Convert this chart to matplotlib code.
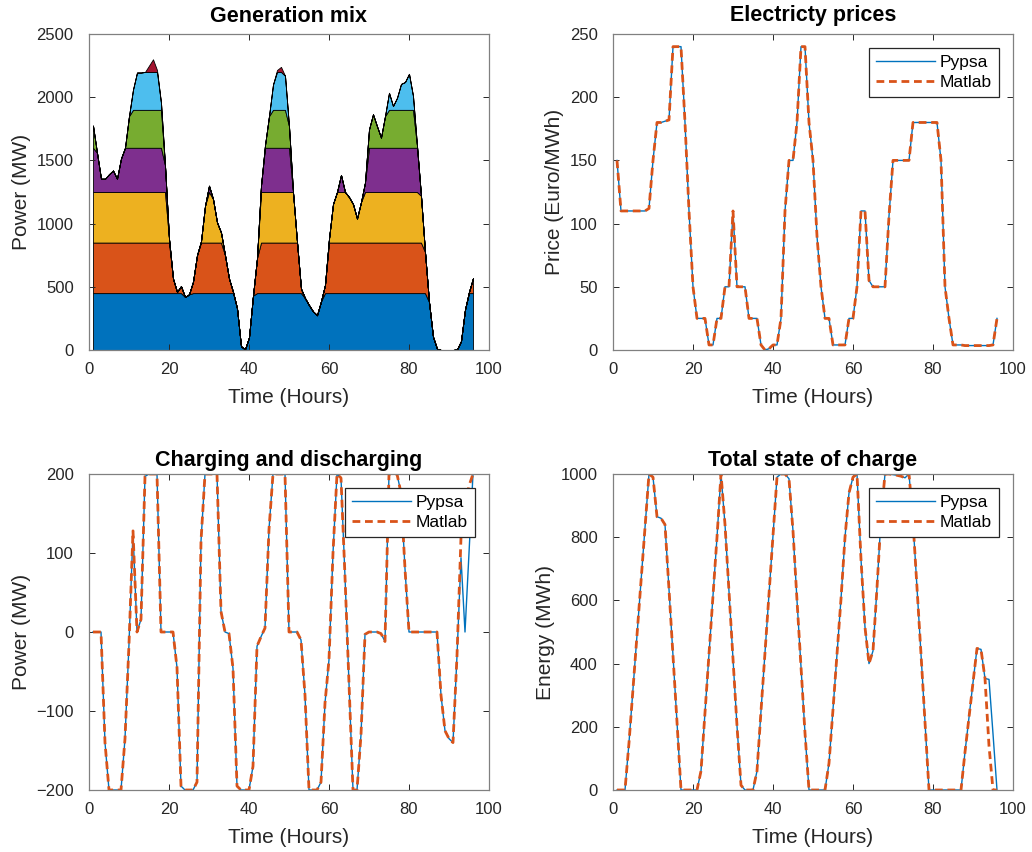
import numpy as np
import matplotlib.pyplot as plt

# ---------------------------------------------------------
# DATA
# ---------------------------------------------------------

hours = np.arange(1, 97)

# total generation (MW), top edge of the stacked areas
total_gen = [
    1775, 1560, 1355, 1355, 1390, 1420, 1355, 1515, 1600, 1850,
    2060, 2195, 2195, 2200, 2250, 2300, 2215, 1955, 1460, 880,
    565, 460, 505, 420, 440, 540, 750, 860, 1140, 1300,
    1195, 1010, 930, 750, 565, 460, 330, 30, 5, 100,
    430, 725, 1300, 1620, 1850, 2100, 2215, 2240, 2170, 1770,
    1250, 855, 485, 410, 355, 305, 275, 385, 515, 880,
    1155, 1250, 1385, 1250, 1210, 1155, 1040, 1170, 1325, 1745,
    1865, 1770, 1680, 1850, 2035, 1930, 1995, 2105, 2120, 2185,
    2010, 1615, 1220, 775, 380, 105, 10, 0, 0, 0,
    0, 5, 70, 320, 460, 568,
]

# plateau of each unit in the stack (MW), bottom to top
unit_caps = [450, 400, 400, 350, 300, 300, 400]
unit_colors = ["#0072BD", "#D95319", "#EDB120", "#7E2F8E",
               "#77AC30", "#4DBEEE", "#A2142F"]

price_pypsa = [
    150, 110, 110, 110, 110, 110, 110, 110, 112, 150,
    180, 180, 181, 182, 240, 240, 240, 180, 110, 50,
    25, 25, 25, 4, 4, 25, 25, 50, 50, 110,
    50, 50, 50, 25, 25, 25, 4, 0, 1, 4,
    4, 25, 110, 150, 150, 180, 240, 240, 180, 150,
    90, 50, 25, 25, 4, 4, 4, 4, 25, 25,
    50, 110, 110, 55, 50, 50, 50, 50, 106, 150,
    150, 150, 150, 150, 180, 180, 180, 180, 180, 180,
    180, 150, 50, 25, 4, 4, 4, 3.5, 3.5, 3.5,
    3.5, 3.5, 3.5, 3.5, 4, 25,
]
price_matlab = list(price_pypsa)

power_pypsa = [
    0, 0, 0, -140, -200, -200, -200, -200, -135, -15,
    128, 0, 16, 197, 200, 200, 200, 0, 0, 0,
    0, -45, -195, -200, -200, -200, -190, 115, 200, 200,
    200, 200, 26, 0, -2, -46, -195, -200, -200, -200,
    -170, -18, -6, 5, 130, 200, 200, 200, 200, 0,
    0, 0, -10, -80, -200, -200, -200, -190, -90, -35,
    100, 200, 195, 70, -65, -200, -200, -130, -3, 0,
    0, 0, -2, -12, 200, 200, 200, 176, 80, 0,
    0, 0, 0, 0, 0, 0, 0, -80, -125, -135,
    -140, -30, 94, 0, 100, 200,
]
power_matlab = power_pypsa[:92] + [120, 160, 185, 200]

soc_pypsa = [
    0, 0, 0, 150, 320, 490, 660, 830, 1000, 990,
    865, 860, 840, 635, 425, 215, 0, 0, 0, 0,
    0, 60, 245, 430, 615, 800, 1000, 840, 628, 415,
    203, 15, 0, 0, 0, 60, 250, 435, 620, 805,
    990, 1000, 1000, 985, 820, 600, 390, 180, 0, 0,
    0, 0, 0, 85, 255, 430, 605, 800, 940, 990,
    1000, 730, 515, 400, 440, 640, 860, 1000, 1000, 998,
    996, 993, 988, 1000, 850, 640, 430, 215, 0, 0,
    0, 0, 0, 0, 0, 0, 0, 120, 230, 340,
    448, 445, 353, 350, 178, 0,
]
soc_matlab = soc_pypsa[:93] + [140, 0, 0]

# ---------------------------------------------------------
# STYLE
# ---------------------------------------------------------

plt.rcParams["font.family"] = ["Liberation Sans", "DejaVu Sans"]
TICK_FS = 12
LABEL_FS = 15
TITLE_FS = 15.5
AX_COLOR = "#262626"

PYPSA_STYLE = dict(color="#0072BD", linewidth=1.0, label="Pypsa")
MATLAB_STYLE = dict(color="#D95319", linewidth=2.0,
                    linestyle=(0, (2.8, 1.7)), label="Matlab")


def style_axes(ax, xlabel, ylabel, title, title_pad):
    ax.set_xlim(0, 100)
    ax.set_xticks([0, 20, 40, 60, 80, 100])
    ax.tick_params(direction="in", top=True, right=True, length=4,
                   width=0.7, colors=AX_COLOR, labelsize=TICK_FS)
    ax.tick_params(axis="x", pad=8.5)
    ax.tick_params(axis="y", pad=11)
    for sp in ax.spines.values():
        sp.set_color("#808080")
        sp.set_linewidth(0.9)
    ax.set_xlabel(xlabel, fontsize=LABEL_FS, color=AX_COLOR, labelpad=8)
    ax.set_ylabel(ylabel, fontsize=LABEL_FS, color=AX_COLOR, labelpad=4)
    ax.set_title(title, fontsize=TITLE_FS, fontweight="bold",
                 color="black", pad=title_pad)


def add_legend(ax):
    leg = ax.legend(loc="upper right", fontsize=12.5, fancybox=False,
                    edgecolor=AX_COLOR, framealpha=1, handlelength=3.4,
                    borderaxespad=0.8, borderpad=0.4, labelspacing=0.3,
                    handletextpad=0.3)
    leg.get_frame().set_linewidth(0.9)


fig = plt.figure(figsize=(10.32, 8.52), dpi=100)

W = 400 / 1032
H = 316 / 852
LEFT = [89 / 1032, 613 / 1032]
BOTTOM = [(852 - 350) / 852, (852 - 790) / 852]

# =========================================================
# GENERATION MIX
# =========================================================

ax1 = fig.add_axes([LEFT[0], BOTTOM[0], W, H])

# stack the units in merit order up to the read total
remaining = np.array(total_gen, dtype=float)
layers = []
for cap in unit_caps:
    part = np.minimum(remaining, cap)
    layers.append(part)
    remaining = remaining - part

ax1.stackplot(hours, layers, colors=unit_colors,
              edgecolor="black", linewidth=0.6)
ax1.set_ylim(0, 2500)
ax1.set_yticks([0, 500, 1000, 1500, 2000, 2500])
style_axes(ax1, "Time (Hours)", "Power (MW)", "Generation mix", 9)

# =========================================================
# ELECTRICITY PRICES
# =========================================================

ax2 = fig.add_axes([LEFT[1], BOTTOM[0], W, H])
ax2.plot(hours, price_pypsa, **PYPSA_STYLE)
ax2.plot(hours, price_matlab, **MATLAB_STYLE)
ax2.set_ylim(0, 250)
ax2.set_yticks([0, 50, 100, 150, 200, 250])
style_axes(ax2, "Time (Hours)", "Price (Euro/MWh)", "Electricty prices", 9)
add_legend(ax2)

# =========================================================
# CHARGING AND DISCHARGING
# =========================================================

ax3 = fig.add_axes([LEFT[0], BOTTOM[1], W, H])
ax3.plot(hours, power_pypsa, **PYPSA_STYLE)
ax3.plot(hours, power_matlab, **MATLAB_STYLE)
ax3.set_ylim(-200, 200)
ax3.set_yticks([-200, -100, 0, 100, 200])
style_axes(ax3, "Time (Hours)", "Power (MW)", "Charging and discharging", 6)
add_legend(ax3)

# =========================================================
# TOTAL STATE OF CHARGE
# =========================================================

ax4 = fig.add_axes([LEFT[1], BOTTOM[1], W, H])
ax4.plot(hours, soc_pypsa, **PYPSA_STYLE)
ax4.plot(hours, soc_matlab, **MATLAB_STYLE)
ax4.set_ylim(0, 1000)
ax4.set_yticks([0, 200, 400, 600, 800, 1000])
style_axes(ax4, "Time (Hours)", "Energy (MWh)", "Total state of charge", 6)
add_legend(ax4)

fig.savefig("out.png", dpi=100, facecolor="white")
plt.close(fig)
